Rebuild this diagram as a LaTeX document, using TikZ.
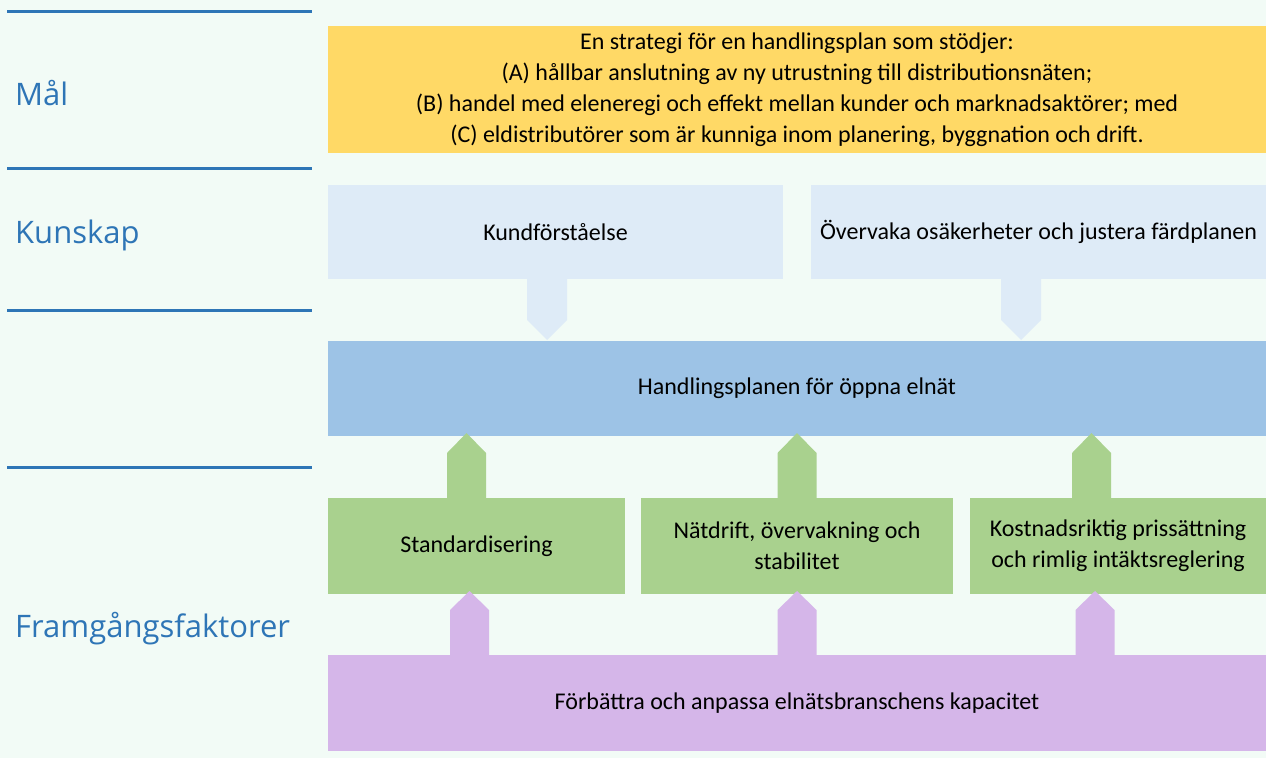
\documentclass[tikz,border=0pt]{standalone}
\usepackage{fontspec}
\setmainfont{Carlito}
\newfontfamily\labelfont{Open Sans}
\begin{document}
\begin{tikzpicture}[x=1pt,y=-1pt,
  box/.style={inner sep=0pt,outer sep=0pt,anchor=north west,align=center,
    font=\fontsize{24}{31}\selectfont,text=black},
  rowlabel/.style={anchor=west,inner sep=0pt,text=lblue,
    font=\labelfont\fontsize{31}{35}\selectfont},
  sep/.style={draw=lblue,line width=3pt}]
\definecolor{bg}{HTML}{F2FBF6}
\definecolor{lblue}{HTML}{2E75B6}
\definecolor{goal}{HTML}{FFD966}
\definecolor{know}{HTML}{DEEBF7}
\definecolor{plan}{HTML}{9DC3E6}
\definecolor{factor}{HTML}{A9D18E}
\definecolor{base}{HTML}{D5B6E9}

\fill[bg] (0,0) rectangle (1266,758);
\useasboundingbox (0,0) rectangle (1266,758);

% row separators and row titles
\draw[sep] (7,11) -- (312,11);
\draw[sep] (7,168) -- (312,168);
\draw[sep] (7,310) -- (312,310);
\draw[sep] (7,467) -- (312,467);
\node[rowlabel] (lmal) at (15,93) {Mål};
\node[rowlabel] (lkun) at (15,235) {Kunskap};
\node[rowlabel] (lfram) at (15,629) {Framgångsfaktorer};

% goal
\node[box,fill=goal,minimum width=938pt,minimum height=127pt] (goal) at (328,26)
  {En strategi för en handlingsplan som stödjer:\\
   (A) hållbar anslutning av ny utrustning till distributionsnäten;\\
   (B) handel med eleneregi och effekt mellan kunder och marknadsaktörer; med\\
   (C) eldistributörer som är kunniga inom planering, byggnation och drift.};

% knowledge
\node[box,fill=know,minimum width=455pt,minimum height=94pt] (kund) at (328,185) {Kundförståelse};
\node[box,fill=know,minimum width=455pt,minimum height=94pt] (over) at (811,185) {Övervaka osäkerheter och justera färdplanen};

% action plan
\node[box,fill=plan,minimum width=938pt,minimum height=95pt] (plan) at (328,341) {Handlingsplanen för öppna elnät};

% success factors
\node[box,fill=factor,minimum width=297pt,minimum height=96pt] (std) at (328,498) {Standardisering};
\node[box,fill=factor,minimum width=312pt,minimum height=96pt] (drift) at (641,498) {Nätdrift, övervakning och\\stabilitet};
\node[box,fill=factor,minimum width=296pt,minimum height=96pt] (kost) at (970,498) {Kostnadsriktig prissättning\\och rimlig intäktsreglering};

% capacity
\node[box,fill=base,minimum width=938pt,minimum height=96pt] (kap) at (328,655) {Förbättra och anpassa elnätsbranschens kapacitet};

% block arrows: knowledge down into the plan
\foreach \c in {547,1021}
  \fill[know] (\c-20,279) -- (\c+20,279) -- (\c+20,320) -- (\c,340) -- (\c-20,320) -- cycle;
% block arrows: factors up into the plan
\foreach \c in {466.5,797,1091.5}
  \fill[factor] (\c-19.5,498) -- (\c-19.5,453) -- (\c,433) -- (\c+19.5,453) -- (\c+19.5,498) -- cycle;
% block arrows: capacity up into the factors
\foreach \c in {469.5,797,1095}
  \fill[base] (\c-19.5,655) -- (\c-19.5,610) -- (\c,591) -- (\c+19.5,610) -- (\c+19.5,655) -- cycle;
\end{tikzpicture}
\end{document}
